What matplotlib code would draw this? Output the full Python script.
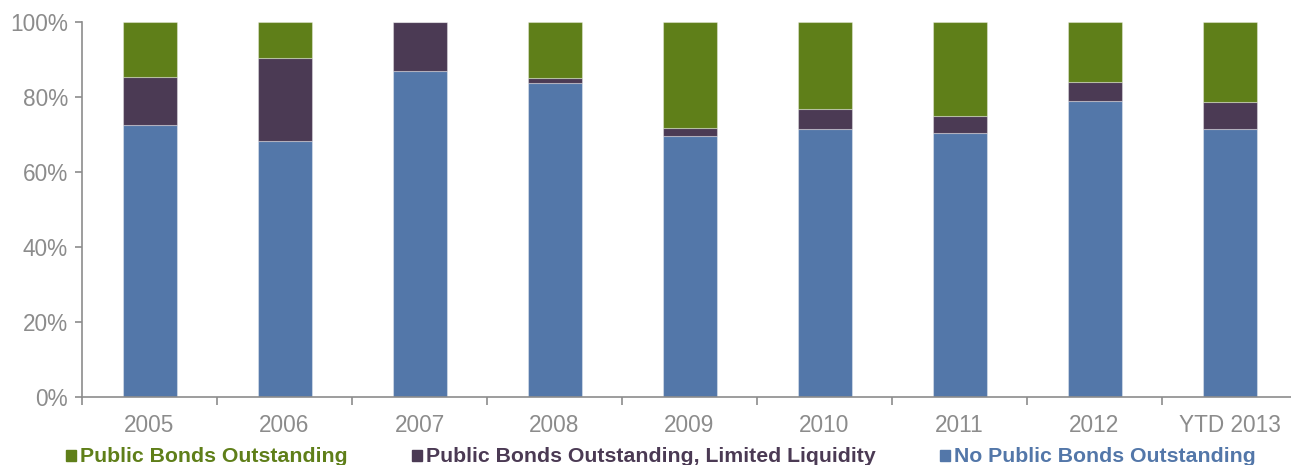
import matplotlib
matplotlib.use("Agg")
import matplotlib.pyplot as plt
import numpy as np
from matplotlib.patches import Rectangle

categories = ["2005", "2006", "2007", "2008", "2009", "2010", "2011", "2012", "YTD 2013"]
no_public = [72.5, 68.3, 87.0, 83.7, 69.6, 71.4, 70.4, 78.9, 71.4]
limited_liquidity = [12.9, 22.0, 13.0, 1.4, 2.2, 5.3, 4.6, 5.0, 7.2]
public = [14.6, 9.7, 0.0, 14.9, 28.2, 23.3, 25.0, 16.1, 21.4]

series_names = ["Public Bonds Outstanding",
                "Public Bonds Outstanding, Limited Liquidity",
                "No Public Bonds Outstanding"]
colors = {"blue": "#5377A9", "purple": "#4B3A54", "green": "#5F7F19"}

plt.rcParams["font.family"] = ["Liberation Sans", "DejaVu Sans"]

W, H, DPI = 1291, 465, 100
fig = plt.figure(figsize=(W / DPI, H / DPI), dpi=DPI)
ax = fig.add_axes([82 / W, 1 - 397 / H, 1215 / W, 375 / H])

x = np.arange(len(categories))
bw = 0.4
edge = dict(edgecolor=(1, 1, 1, 0.35), linewidth=0.8)
b1 = np.array(no_public)
b2 = b1 + np.array(limited_liquidity)
ax.bar(x, no_public, bw, color=colors["blue"], **edge)
ax.bar(x, limited_liquidity, bw, bottom=b1, color=colors["purple"], **edge)
ax.bar(x, public, bw, bottom=b2, color=colors["green"], **edge)

ax.set_xlim(-0.5, len(categories) - 0.5)
ax.set_ylim(0, 100)
ax.set_yticks(np.arange(0, 101, 20))
ax.set_yticklabels([f"{v}%" for v in range(0, 101, 20)])
ax.set_xticks(x)
ax.set_xticklabels(categories)
ax.set_xticks(np.arange(-0.5, len(categories) - 0.4, 1), minor=True)

gray = "#8C8C8C"
for s in ["top", "right"]:
    ax.spines[s].set_visible(False)
for s in ["left", "bottom"]:
    ax.spines[s].set_color(gray)
    ax.spines[s].set_linewidth(1.2)
ax.tick_params(axis="y", colors=gray, labelcolor="#8C8C8C", labelsize=16.3,
               length=5, width=1.2, direction="out", pad=5)
ax.tick_params(axis="x", which="major", length=0, labelcolor="#8C8C8C",
               labelsize=16.3, pad=12)
ax.tick_params(axis="x", which="minor", length=6, width=1.2, color=gray,
               direction="out")

# Legend row along the bottom edge
legend_items = [
    (66, series_names[0], colors["green"]),
    (412, series_names[1], colors["purple"]),
    (940, series_names[2], colors["blue"]),
]
ly = 456
for px, label, col in legend_items:
    fig.patches.append(Rectangle((px / W, 1 - (ly + 5) / H), 10 / W, 11 / H,
                                 transform=fig.transFigure, color=col))
    fig.text((px + 14) / W, 1 - ly / H, label, color=col, fontsize=15.3,
             fontweight="bold", va="center", ha="left")

fig.savefig("out.png", dpi=DPI)
